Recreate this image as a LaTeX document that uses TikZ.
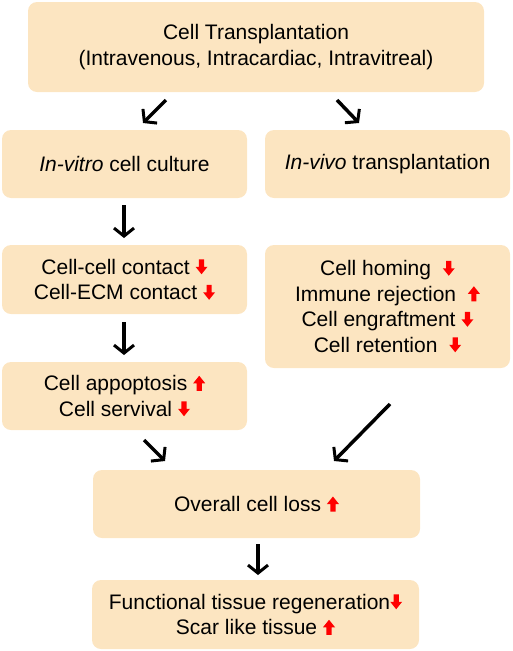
\documentclass[tikz,border=0pt]{standalone}
\usepackage{fontspec}
\setmainfont{Liberation Sans}
\usepackage{tikz}
\usetikzlibrary{arrows.meta}

\definecolor{peach}{RGB}{252,229,193}

% red up / down markers
\newcommand{\incr}{\tikz[x=1pt, y=1pt, baseline=0pt, sharp corners]
    \fill[red] (-2.6,0) -- (2.6,0) -- (2.6,7.5) -- (6,7.5) -- (0,15) -- (-6,7.5) -- (-2.6,7.5) -- cycle;}
\newcommand{\decr}{\tikz[x=1pt, y=1pt, baseline=0pt, sharp corners]
    \fill[red] (-2.6,15) -- (2.6,15) -- (2.6,7.5) -- (6,7.5) -- (0,0) -- (-6,7.5) -- (-2.6,7.5) -- cycle;}

\begin{document}
\begin{tikzpicture}[
    x = 1pt, y = -1pt,
    box/.style = {rectangle, rounded corners=9pt, fill=peach, align=center,
                  inner sep=0pt, font=\fontsize{21}{25.5}\selectfont},
    flow/.style = {line width=3.5pt, -{Straight Barb[length=8pt, width=20pt, line width=3pt]}}
    ]
    \useasboundingbox (0,0) rectangle (512,651);
    \begin{scope}[nodes=box]
        \node[minimum width=456pt, minimum height=90pt] (trans) at (256,47)
            {Cell Transplantation\\(Intravenous, Intracardiac, Intravitreal)};
        \node[minimum width=245pt, minimum height=68pt] (vitro) at (124.5,164)
            {\textit{In-vitro} cell culture};
        \node[minimum width=245pt, minimum height=68pt] (vivo) at (387.5,164)
            {\textit{In-vivo} transplantation};
        \node[minimum width=245pt, minimum height=69pt] (contact) at (124.5,279.5)
            {Cell-cell contact \decr\\Cell-ECM contact \decr};
        \node[minimum width=245pt, minimum height=123pt] (homing) at (387.5,306.5)
            {Cell homing \ \decr\\Immune rejection \ \incr\\Cell engraftment \decr\\Cell retention \ \decr};
        \node[minimum width=245pt, minimum height=68pt] (apopt) at (124.5,396)
            {Cell appoptosis \incr\\Cell servival \decr};
        \node[minimum width=327pt, minimum height=68pt] (loss) at (256.5,504)
            {Overall cell loss \incr};
        \node[minimum width=327pt, minimum height=69pt] (regen) at (255.5,614.5)
            {Functional tissue regeneration\decr\\Scar like tissue \incr};
    \end{scope}
    % arrow ends
    \coordinate (t1) at (166,100);  \coordinate (v1) at (143,123);
    \coordinate (t2) at (337,100);  \coordinate (v2) at (359,123);
    \coordinate (v3) at (124,205);  \coordinate (c3) at (124,238);
    \coordinate (c4) at (124,322);  \coordinate (a4) at (124,355);
    \coordinate (a5) at (144,440);  \coordinate (l5) at (165,461);
    \coordinate (h6) at (390,404);  \coordinate (l6) at (334,461);
    \coordinate (l7) at (258,544);  \coordinate (r7) at (258,575);
    \begin{scope}[every path/.style=flow]
        \draw (t1) -- (v1);
        \draw (t2) -- (v2);
        \draw (v3) -- (c3);
        \draw (c4) -- (a4);
        \draw (a5) -- (l5);
        \draw (h6) -- (l6);
        \draw (l7) -- (r7);
    \end{scope}
\end{tikzpicture}
\end{document}
